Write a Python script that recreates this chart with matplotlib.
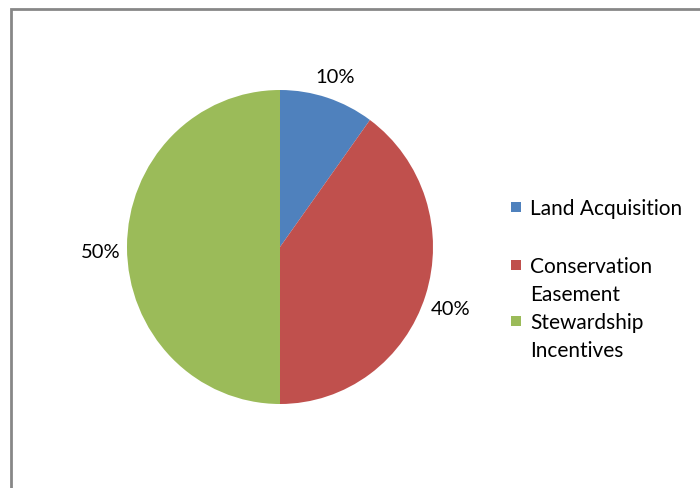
import matplotlib.pyplot as plt
from matplotlib.patches import Rectangle
from matplotlib.transforms import offset_copy

labels = ["Land Acquisition", "Conservation\nEasement", "Stewardship\nIncentives"]
shares = [10, 40, 50]
colors = ["#4F81BD", "#C0504D", "#9BBB59"]

plt.rcParams['font.family'] = ['Lato', 'DejaVu Sans']

W, H = 700, 489
fig = plt.figure(figsize=(W / 100, H / 100), dpi=100)

# chart frame (cut off on the right and bottom like the original)
fig.add_artist(Rectangle((11 / W, -0.1), 1.2, 1.1 - 10 / H, transform=fig.transFigure,
                         facecolor="none", edgecolor="#878787", linewidth=2))

# pie axes: centre (280, 248), radii ~153 x 157 px
cx, cy, rx, ry = 280, 248, 153, 157
ax = fig.add_axes([(cx - rx) / W, 1 - (cy + ry) / H, 2 * rx / W, 2 * ry / H])
wedges, texts, autotexts = ax.pie(shares, colors=colors, startangle=90, counterclock=False,
                                  autopct="%d%%", pctdistance=1.17,
                                  wedgeprops=dict(linewidth=0))
for t in autotexts:
    t.set_fontsize(14.5)
    t.set_color("#000000")
    t.set_verticalalignment("center_baseline")
    t.set_transform(offset_copy(ax.transData, fig, y=-3, units='dots'))
ax.set_aspect('auto')
ax.set_xlim(-1, 1)
ax.set_ylim(-1, 1)
ax.axis('off')

# legend
leg_y = [208, 266, 322]
for lab, col, y in zip(labels, colors, leg_y):
    fig.add_artist(Rectangle((511 / W, 1 - (y + 5) / H), 10 / W, 10 / H,
                             transform=fig.transFigure, facecolor=col, edgecolor="none"))
    fig.text(530 / W, 1 - (y - 9) / H, lab, fontsize=15, va="top", ha="left",
             linespacing=1.5, color="#000000")

fig.savefig("out.png", dpi=100)
